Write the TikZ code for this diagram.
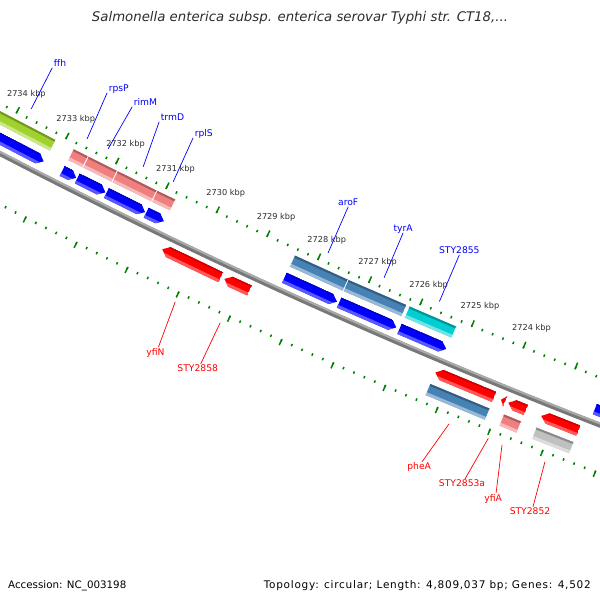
\documentclass[tikz,border=0pt]{standalone}
\usepackage{fontspec}
\setmainfont{DejaVu Sans}
\usepackage{tikz, xcolor}

\definecolor{tickgreen}{RGB}{0,128,0}
\definecolor{genepink}{RGB}{240,128,128}
\definecolor{genesteel}{RGB}{70,130,180}
\definecolor{genecyan}{RGB}{0,206,209}
\definecolor{genegreen}{RGB}{160,210,45}
\definecolor{genegray}{RGB}{192,192,192}
\definecolor{bbgray}{RGB}{120,120,120}
\definecolor{bblight}{RGB}{170,170,170}
\definecolor{labelgray}{RGB}{45,45,45}

% position on the map: t = kbp counted down from 2734
\newcommand{\mapang}[1]{-117.53+0.535*(#1)}

% gene bar: t1, t2, inner r, outer r, colour
\newcommand{\genebar}[5]{%
  \pgfmathsetmacro\ga{\mapang{#1}}
  \pgfmathsetmacro\gb{\mapang{#2}}
  \pgfmathsetmacro\gd{#3+2}
  \pgfmathsetmacro\gl{#4-3}
  \fill[#5] (\ga:#3) -- (\gb:#3) -- (\gb:#4) -- (\ga:#4) -- cycle;
  \fill[#5!72!black] (\ga:#3) -- (\gb:#3) -- (\gb:\gd) -- (\ga:\gd) -- cycle;
  \fill[#5!55!white] (\ga:\gl) -- (\gb:\gl) -- (\gb:#4) -- (\ga:#4) -- cycle;
  \draw[white, line width=0.7pt] (\ga:#3) -- (\ga:#4) (\gb:#3) -- (\gb:#4);
}

% CDS arrow pointing to larger t: t1, t2, inner r, outer r, colour
\newcommand{\cdsfwd}[5]{%
  \pgfmathsetmacro\ga{\mapang{#1}}
  \pgfmathsetmacro\gb{\mapang{#2}}
  \pgfmathsetmacro\gh{\mapang{max(#1,#2-0.12)}}
  \pgfmathsetmacro\gm{(#3+#4)/2}
  \pgfmathsetmacro\gd{#3+1.5}
  \pgfmathsetmacro\gl{#4-3}
  \begin{scope}
    \clip (\ga:#3) -- (\gh:#3) -- (\gb:\gm) -- (\gh:#4) -- (\ga:#4) -- cycle;
    \fill[#5] (\ga:#3) -- (\gb:#3) -- (\gb:#4) -- (\ga:#4) -- cycle;
    \fill[#5!80!black] (\ga:#3) -- (\gb:#3) -- (\gb:\gd) -- (\ga:\gd) -- cycle;
    \fill[#5!65!white] (\ga:\gl) -- (\gb:\gl) -- (\gb:#4) -- (\ga:#4) -- cycle;
  \end{scope}
}

% CDS arrow pointing to smaller t
\newcommand{\cdsrev}[5]{%
  \pgfmathsetmacro\ga{\mapang{#1}}
  \pgfmathsetmacro\gb{\mapang{#2}}
  \pgfmathsetmacro\gh{\mapang{min(#2,#1+0.12)}}
  \pgfmathsetmacro\gm{(#3+#4)/2}
  \pgfmathsetmacro\gd{#3+1.5}
  \pgfmathsetmacro\gl{#4-3}
  \begin{scope}
    \clip (\ga:\gm) -- (\gh:#3) -- (\gb:#3) -- (\gb:#4) -- (\gh:#4) -- cycle;
    \fill[#5] (\ga:#3) -- (\gb:#3) -- (\gb:#4) -- (\ga:#4) -- cycle;
    \fill[#5!80!black] (\ga:#3) -- (\gb:#3) -- (\gb:\gd) -- (\ga:\gd) -- cycle;
    \fill[#5!65!white] (\ga:\gl) -- (\gb:\gl) -- (\gb:#4) -- (\ga:#4) -- cycle;
  \end{scope}
}

\begin{document}
\begin{tikzpicture}[x=1pt, y=1pt,
    tick/.style={tickgreen, line width=1.5pt},
    kbp/.style={font=\fontsize{8.2}{9}\selectfont, text=labelgray, inner sep=0pt},
    fwdlab/.style={font=\fontsize{9.2}{10}\selectfont, text=blue, inner sep=1.5pt, yshift=1pt},
    revlab/.style={font=\fontsize{9.2}{10}\selectfont, text=red, inner sep=1pt, anchor=north, xshift=-3pt},
    fwdline/.style={blue, line width=0.7pt},
    revline/.style={red, line width=0.7pt}]
  \useasboundingbox (0,0) rectangle (600,600);
  \fill[white] (0,0) rectangle (600,600);

  \begin{scope}
  \clip (0,0) rectangle (600,600);
  \begin{scope}[shift={(2783,5795)}]
    \pgfmathsetmacro\aS{\mapang{-1}}
    \pgfmathsetmacro\aE{\mapang{13}}

    % backbone
    \draw[bbgray, line width=5pt] (\aS:6029.5) arc[start angle=\aS, end angle=\aE, radius=6029.5];
    \draw[bblight, line width=2pt] (\aS:6028) arc[start angle=\aS, end angle=\aE, radius=6028];

    % scales, 200 bp and 1 kbp
    \foreach \i in {-5,...,65}
    {
      \pgfmathsetmacro\a{\mapang{\i/5}}
      \draw[tick] (\a:5984) -- (\a:5986.5);
      \draw[tick] (\a:6073.5) -- (\a:6076);
    }
    \foreach \k in {-1,...,13}
    {
      \pgfmathsetmacro\a{\mapang{\k}}
      \draw[tick] (\a:5979.5) -- (\a:5986.5);
      \draw[tick] (\a:6073.5) -- (\a:6080);
    }
    \foreach \k in {0,...,10}
    {
      \pgfmathsetmacro\a{\mapang{\k}}
      \pgfmathtruncatemacro\kb{2734-\k}
      \node[kbp] (kbp\kb) at (\a:5964.5) {\kb\ kbp};
    }

    % genes, forward strand
    \genebar{-0.52}{0.85}{5992}{6004}{genegreen}
    \genebar{1.20}{1.50}{5992}{6004}{genepink}
    \genebar{1.50}{2.08}{5992}{6004}{genepink}
    \genebar{2.08}{2.87}{5992}{6004}{genepink}
    \genebar{2.87}{3.24}{5992}{6004}{genepink}
    \genebar{5.59}{6.64}{5992}{6004}{genesteel}
    \genebar{6.64}{7.78}{5992}{6004}{genesteel}
    \genebar{7.83}{8.75}{5992}{6004}{genecyan}

    % CDS, forward strand
    \cdsfwd{-0.52}{0.83}{6011}{6022}{blue}
    \cdsfwd{1.20}{1.48}{6011}{6022}{blue}
    \cdsfwd{1.50}{2.06}{6011}{6022}{blue}
    \cdsfwd{2.08}{2.85}{6011}{6022}{blue}
    \cdsfwd{2.87}{3.22}{6011}{6022}{blue}
    \cdsfwd{5.59}{6.62}{6011}{6022}{blue}
    \cdsfwd{6.66}{7.77}{6011}{6022}{blue}
    \cdsfwd{7.83}{8.74}{6011}{6022}{blue}
    \cdsfwd{11.59}{13}{6011}{6022}{blue}

    % CDS, reverse strand
    \cdsrev{3.41}{4.56}{6037}{6048}{red}
    \cdsrev{4.63}{5.12}{6037}{6048}{red}
    \cdsrev{8.72}{9.85}{6037}{6048}{red}
    \cdsrev{9.98}{10.06}{6037}{6048}{red}
    \cdsrev{10.12}{10.46}{6037}{6048}{red}
    \cdsrev{10.75}{11.46}{6037}{6048}{red}

    % genes, reverse strand
    \genebar{8.71}{9.86}{6055}{6067}{genesteel}
    \genebar{10.12}{10.46}{6055}{6067}{genepink}
    \genebar{10.74}{11.46}{6055}{6067}{genegray}

    % labels
    \foreach \nm/\ta/\ra/\tb/\rb/\anc in {ffh/0.203/5975.5/0.198/5929.4/base west,
        rpsP/1.340/5976.7/1.288/5926.6/base west, rimM/1.756/5976.2/1.804/5927.9/base west,
        trmD/2.462/5976.7/2.362/5929.3/base west, rplS/3.062/5977/3.04/5928.7/base west,
        aroF/6.117/5975.6/6.105/5925.5/base, tyrA/7.216/5975.7/7.204/5926.9/base,
        STY2855/8.294/5975.6/8.296/5924.8/base}
    {
      \pgfmathsetmacro\aa{\mapang{\ta}}
      \pgfmathsetmacro\ab{\mapang{\tb}}
      \coordinate (\nm-in) at (\aa:\ra);
      \coordinate (\nm-out) at (\ab:\rb);
      \draw[fwdline] (\nm-in) -- (\nm-out);
      \node[fwdlab, anchor=\anc] (\nm) at (\nm-out) {\nm};
    }
    \foreach \nm/\ta/\ra/\tb/\rb in {yfiN/4.018/6084.4/4.092/6132.4,
        STY2858/4.89/6084.2/4.886/6129.6, pheA/9.295/6084.5/9.114/6130.0,
        STY2853a/10.03/6083/9.921/6129.3, yfiA/10.297/6083.8/10.514/6130.6,
        STY2852/11.11/6083.7/11.204/6129.9}
    {
      \pgfmathsetmacro\aa{\mapang{\ta}}
      \pgfmathsetmacro\ab{\mapang{\tb}}
      \coordinate (\nm-in) at (\aa:\ra);
      \coordinate (\nm-out) at (\ab:\rb);
      \draw[revline] (\nm-in) -- (\nm-out);
      \node[revlab] (\nm) at (\nm-out) {\nm};
    }
  \end{scope}
  \end{scope}

  % header and footer
  \node[font=\fontsize{13.3}{15}\selectfont\itshape, text=labelgray] (title) at (300,582)
    {Salmonella enterica subsp. enterica serovar Typhi str. CT18,...};
  \node[font=\fontsize{10.3}{12}\selectfont, anchor=base west, inner sep=0pt] (accession) at (8,12)
    {Accession: NC\_003198};
  \node[font=\fontsize{10.5}{12}\selectfont\addfontfeature{LetterSpace=7}, anchor=base east, inner sep=0pt] (topology) at (591,12)
    {Topology: circular; Length: 4,809,037 bp; Genes: 4,502};
\end{tikzpicture}
\end{document}
